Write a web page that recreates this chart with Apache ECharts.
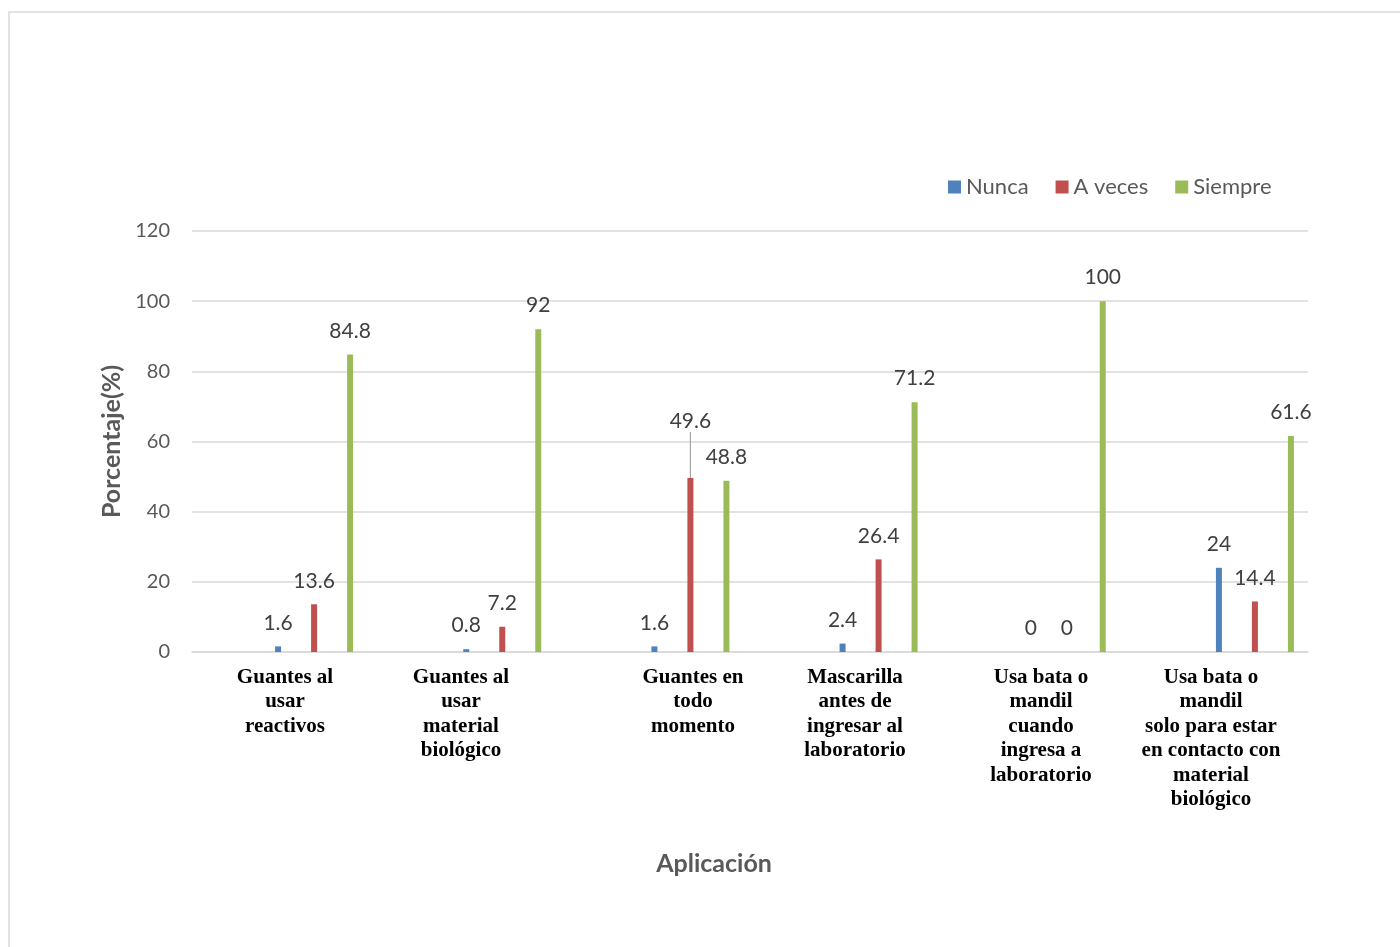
<!DOCTYPE html>
<html>
<head>
<meta charset="utf-8">
<script src="https://cdn.jsdelivr.net/npm/echarts@6/dist/echarts.min.js"></script>
<style>
  html, body { margin: 0; padding: 0; background: #ffffff; }
  #chart { width: 1400px; height: 947px; }
</style>
</head>
<body>
<div id="chart"></div>
<script>
// Categories (line breaks as they are set in the chart)
const categories = [
  'Guantes al\nusar\nreactivos',
  'Guantes al\nusar\nmaterial\nbiológico',
  'Guantes en\ntodo\nmomento',
  'Mascarilla\nantes de\ningresar al\nlaboratorio',
  'Usa bata o\nmandil\ncuando\ningresa a\nlaboratorio',
  'Usa bata o\nmandil\nsolo para estar\nen contacto con\nmaterial\nbiológico'
];
const seriesNames = ['Nunca', 'A veces', 'Siempre'];
const nunca   = [1.6, 0.8, 1.6, 2.4, 0, 24];
const aVeces  = [13.6, 7.2, 49.6, 26.4, 0, 14.4];
const siempre = [84.8, 92, 48.8, 71.2, 100, 61.6];
const yMin = 0, yMax = 120, yStep = 20;
const yTitle = 'Porcentaje(%)';
const xTitle = 'Aplicación';

// Layout tuning: horizontal nudge of each category caption (px)
const captionShift = [0, -10, 36, 12, 12, -4];
// Index of the "A veces" label that is lifted and tied back with a leader line
const liftedIndex = 2;

const colors = ['#4f81bd', '#c0504d', '#9bbb59'];
const sansFont = 'Lato, "Open Sans", sans-serif';
const serifFont = '"Liberation Serif", "DejaVu Serif", serif';

const rich = {};
captionShift.forEach((dx, i) => {
  rich['c' + i] = {
    fontFamily: serifFont,
    fontWeight: 'bold',
    fontSize: 21,
    lineHeight: 24.5,
    color: '#000000',
    padding: dx >= 0 ? [0, 0, 0, 2 * dx] : [0, -2 * dx, 0, 0]
  };
});

const chart = echarts.init(document.getElementById('chart'), null, { renderer: 'canvas' });

const labelStyle = {
  show: true,
  position: 'top',
  distance: 13,
  fontFamily: sansFont,
  fontSize: 21,
  color: '#404040'
};

function barSeries(name, data, color, extra) {
  return Object.assign({
    name: name,
    type: 'bar',
    xAxisIndex: 1,
    yAxisIndex: 1,
    barWidth: 6,
    barGap: '500%',
    itemStyle: { color: color },
    label: labelStyle,
    labelLine: { show: false },
    data: data
  }, extra || {});
}

const aVecesData = aVeces.map(function (v, i) {
  return i === liftedIndex
    ? { value: v, labelLine: { show: true, lineStyle: { color: '#a6a6a6', width: 1.2 } } }
    : v;
});

chart.setOption({
  backgroundColor: '#ffffff',
  animation: false,
  color: colors,
  legend: {
    data: seriesNames,
    left: 943,
    top: 171,
    itemWidth: 13,
    itemHeight: 13,
    itemGap: 27,
    icon: 'rect',
    textStyle: { fontFamily: sansFont, fontSize: 22, color: '#595959' }
  },
  grid: [
    { left: 192, right: 92, top: 231, height: 421 },
    { left: 220, right: 51, top: 231, height: 421 }
  ],
  xAxis: [
    {
      type: 'category',
      gridIndex: 0,
      data: categories,
      axisLine: { show: true, lineStyle: { color: '#d9d9d9', width: 1.5 } },
      axisTick: { show: false },
      axisLabel: {
        interval: 0,
        margin: 13,
        formatter: function (value, index) {
          return value.split('\n').map(function (line) {
            return '{c' + index + '|' + line + '}';
          }).join('\n');
        },
        rich: rich
      },
      splitLine: { show: false }
    },
    {
      type: 'category',
      gridIndex: 1,
      data: categories,
      show: false
    }
  ],
  yAxis: [
    {
      type: 'value',
      gridIndex: 0,
      min: yMin,
      max: yMax,
      interval: yStep,
      name: yTitle,
      nameLocation: 'middle',
      nameGap: 68,
      nameTextStyle: { fontFamily: sansFont, fontWeight: 'bold', fontSize: 25, color: '#595959' },
      axisLine: { show: false },
      axisTick: { show: false },
      axisLabel: { fontFamily: sansFont, fontSize: 20, color: '#595959', margin: 22 },
      splitLine: { lineStyle: { color: '#d9d9d9', width: 1.5 } }
    },
    {
      type: 'value',
      gridIndex: 1,
      min: yMin,
      max: yMax,
      interval: yStep,
      show: false,
      splitLine: { show: false }
    }
  ],
  graphic: [
    {
      type: 'rect',
      silent: true,
      shape: { x: 9, y: 12, width: 1400, height: 950 },
      style: { fill: 'none', stroke: '#d9d9d9', lineWidth: 1.5 }
    },
    {
      type: 'text',
      silent: true,
      x: 714,
      y: 864,
      style: {
        text: xTitle,
        align: 'center',
        verticalAlign: 'middle',
        fontFamily: sansFont,
        fontWeight: 'bold',
        fontSize: 25,
        fill: '#595959'
      }
    }
  ],
  series: [
    barSeries(seriesNames[0], nunca, colors[0]),
    barSeries(seriesNames[1], aVecesData, colors[1], {
      labelLayout: function (params) {
        // lift the 49.6 label clear of the neighbouring 48.8 label
        return params.dataIndex === liftedIndex ? { dy: -33 } : {};
      }
    }),
    barSeries(seriesNames[2], siempre, colors[2])
  ]
});
</script>
</body>
</html>
